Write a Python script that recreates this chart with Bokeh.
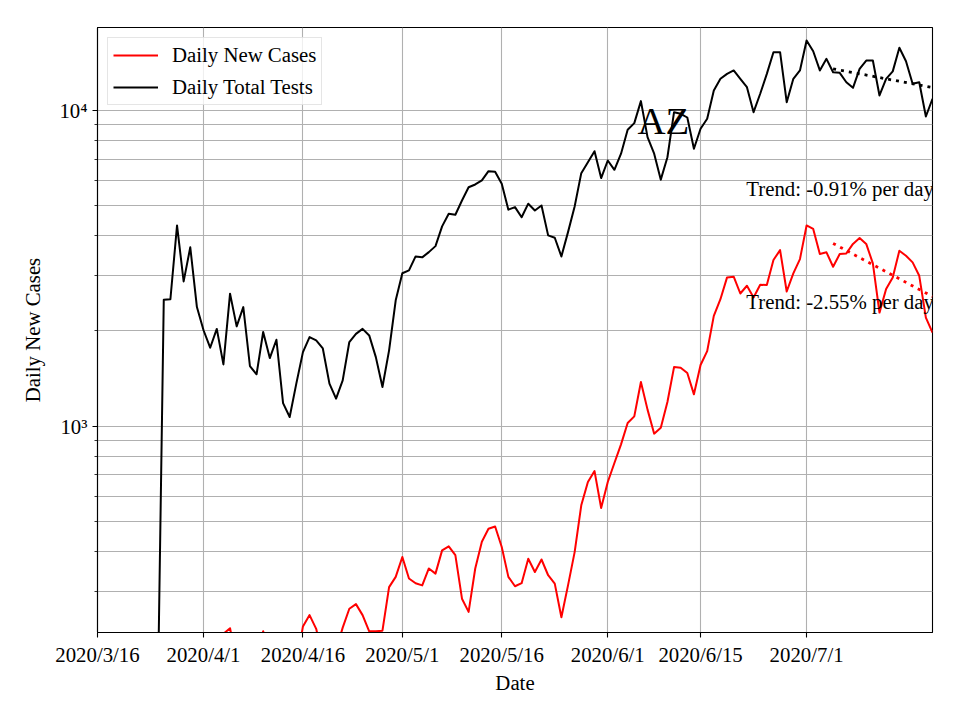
import pandas as pd
from bokeh.plotting import figure
from bokeh.models import (Range1d, FixedTicker, CustomJSTickFormatter, Legend,
                          LegendItem, Label)
from bokeh.embed import file_html
from bokeh.resources import INLINE

# ---------------- data ----------------
start_date = "2020-03-25"   # first day of both daily series

new_cases = [
    60, 80, 90, 110, 120, 130, 150, 160, 170, 190,
    220, 229, 180, 195, 200, 190, 224, 185, 200, 190,
    205, 175, 232, 252, 228, 185, 200, 195, 230, 264,
    273, 252, 224, 224, 225, 309, 333, 385, 329, 318,
    313, 354, 341, 404, 416, 390, 284, 258, 354, 430,
    473, 481, 414, 333, 311, 318, 380, 345, 378, 337,
    317, 248, 313, 399, 561, 665, 720, 550, 665, 764,
    875, 1022, 1073, 1378, 1127, 946, 988, 1191, 1537, 1530,
    1472, 1260, 1560, 1727, 2232, 2521, 2955, 2970, 2628, 2781,
    2553, 2800, 2795, 3353, 3606, 2667, 3042, 3378, 4315, 4209,
    3504, 3548, 3194, 3504, 3520, 3773, 3936, 3773, 3273, 2286,
    2714, 2955, 3590, 3460, 3297, 2990, 2203, 1975,
]

total_tests = [
    100, 2510, 2520, 4315, 2870, 3680, 2380, 2010, 1770, 2030,
    1567, 2625, 2068, 2380, 1549, 1458, 1985, 1641, 1876, 1182,
    1068, 1362, 1714, 1913, 1867, 1760, 1362, 1221, 1395, 1845,
    1958, 2030, 1936, 1653, 1329, 1736, 2500, 3046, 3110, 3443,
    3420, 3553, 3712, 4286, 4698, 4665, 5176, 5702, 5818, 5993,
    6412, 6380, 5850, 4842, 4934, 4582, 5058, 4815, 4993, 4014,
    3946, 3443, 4111, 4954, 6318, 6845, 7414, 6095, 6930, 6475,
    7280, 8668, 9100, 10680, 8216, 7280, 6026, 7095, 9856, 9740,
    9480, 7550, 8730, 9395, 11540, 12570, 13030, 13360, 12570, 11820,
    9855, 11270, 13030, 15260, 15260, 10600, 12570, 13360, 16620, 15370,
    13360, 14540, 13190, 13130, 12260, 11770, 13520, 14360, 14360, 11130,
    12570, 13270, 15760, 14290, 12120, 12260, 9551, 10870,
]

trend_dates = ["2020-07-05", "2020-07-20"]
tests_trend = [13520, 11790]
cases_trend = [3786, 2570]

tick_dates = ["2020-03-16", "2020-04-01", "2020-04-16", "2020-05-01",
              "2020-05-16", "2020-06-01", "2020-06-15", "2020-07-01"]
y_major_ticks = [1000, 10000]
y_minor_ticks = [300, 400, 500, 600, 700, 800, 900,
                 2000, 3000, 4000, 5000, 6000, 7000, 8000, 9000]

state_name = "AZ"
tests_trend_text = "Trend: -0.91% per day"
cases_trend_text = "Trend: -2.55% per day"
series_names = ["Daily New Cases", "Daily Total Tests"]

# ---------------- figure ----------------
FONT = "Liberation Serif"
FS = "20.8px"


def ms(d):
    return pd.Timestamp(d).value / 1e6


dates = pd.date_range(start_date, periods=len(new_cases), freq="D")
tdates = pd.to_datetime(trend_dates)

p = figure(width=944, height=704, x_axis_type="datetime", y_axis_type="log",
           x_range=Range1d(ms("2020-03-16"), ms("2020-07-20")),
           y_range=Range1d(222, 18270),
           output_backend="svg", toolbar_location=None,
           min_border_left=97, min_border_right=12,
           min_border_top=27, min_border_bottom=72)

p.background_fill_color = "white"
p.border_fill_color = "white"
p.outline_line_color = "black"
p.outline_line_width = 1.1
p.outline_line_alpha = 1.0

xt = FixedTicker(ticks=[ms(d) for d in tick_dates], minor_ticks=[])
yt = FixedTicker(ticks=y_major_ticks, minor_ticks=y_minor_ticks)
p.xaxis.ticker = xt
p.xgrid.ticker = xt
p.yaxis.ticker = yt
p.ygrid.ticker = yt

p.xaxis.formatter = CustomJSTickFormatter(code="""
const d = new Date(tick);
return d.getUTCFullYear() + '/' + (d.getUTCMonth() + 1) + '/' + d.getUTCDate();
""")
p.yaxis.formatter = CustomJSTickFormatter(code="""
const sup = {'0':'\u2070','1':'\u00b9','2':'\u00b2','3':'\u00b3','4':'\u2074',
             '5':'\u2075','6':'\u2076','7':'\u2077','8':'\u2078','9':'\u2079'};
const e = Math.round(Math.log10(tick));
return '10' + String(e).split('').map(c => sup[c]).join('');
""")

for g in (p.xgrid, p.ygrid):
    g.grid_line_color = "#b0b0b0"
    g.grid_line_width = 1.1
p.ygrid.minor_grid_line_color = "#b0b0b0"
p.ygrid.minor_grid_line_width = 1.1

p.axis.axis_line_color = "black"
p.axis.axis_line_width = 1.1
p.axis.major_tick_line_color = "black"
p.axis.major_tick_line_width = 1.1
p.axis.major_tick_out = 5
p.axis.major_tick_in = 0
p.axis.minor_tick_line_color = "black"
p.axis.minor_tick_line_width = 0.8
p.axis.minor_tick_out = 3
p.axis.minor_tick_in = 0
p.xaxis.minor_tick_line_color = None
p.axis.major_label_text_font = FONT
p.axis.major_label_text_font_size = FS
p.axis.major_label_text_color = "black"
p.axis.major_label_standoff = 5
p.axis.axis_label_text_font = FONT
p.axis.axis_label_text_font_size = FS
p.axis.axis_label_text_font_style = "normal"
p.axis.axis_label_text_color = "black"
p.xaxis.axis_label = "Date"
p.yaxis.axis_label = "Daily New Cases"
p.xaxis.axis_label_standoff = 2
p.yaxis.axis_label_standoff = 12

r_cases = p.line(dates, new_cases, line_color="red", line_width=2, line_join="round")
r_tests = p.line(dates, total_tests, line_color="black", line_width=2, line_join="round")
p.line(tdates, tests_trend, line_color="black", line_width=2.8, line_dash="3 5")
p.line(tdates, cases_trend, line_color="red", line_width=2.8, line_dash="3 5")

legend = Legend(items=[LegendItem(label=series_names[0], renderers=[r_cases]),
                       LegendItem(label=series_names[1], renderers=[r_tests])],
                location="top_left")
legend.margin = 10
legend.padding = 5
legend.spacing = 8
legend.glyph_width = 45
legend.glyph_height = 22
legend.label_height = 22
legend.label_standoff = 14
legend.label_text_font = FONT
legend.label_text_font_size = FS
legend.label_text_color = "black"
legend.background_fill_color = "white"
legend.background_fill_alpha = 0.8
legend.border_line_color = "#cccccc"
legend.border_line_width = 1
p.add_layout(legend)

day0 = pd.Timestamp("2020-03-16")
p.add_layout(Label(x=ms(day0 + pd.Timedelta(days=85.4)), y=9300, text=state_name,
                   text_font=FONT, text_font_size="38.9px", text_color="black",
                   text_align="center", text_baseline="alphabetic"))
p.add_layout(Label(x=ms(day0 + pd.Timedelta(days=97.9)), y=5642, text=tests_trend_text,
                   text_font=FONT, text_font_size=FS, text_color="black",
                   text_align="left", text_baseline="alphabetic"))
p.add_layout(Label(x=ms(day0 + pd.Timedelta(days=97.9)), y=2481, text=cases_trend_text,
                   text_font=FONT, text_font_size=FS, text_color="black",
                   text_align="left", text_baseline="alphabetic"))

open("out.html", "w").write(file_html(p, INLINE))
